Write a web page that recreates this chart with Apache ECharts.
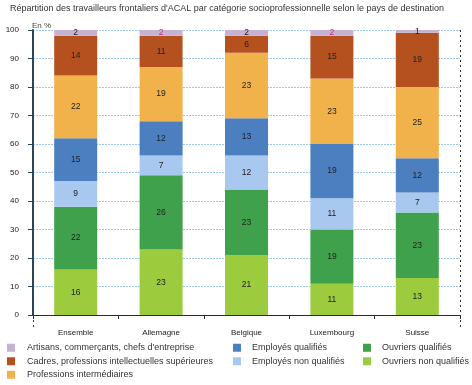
<!DOCTYPE html>
<html><head><meta charset="utf-8">
<script src="https://cdn.jsdelivr.net/npm/echarts@6/dist/echarts.min.js"></script>
<style>html,body{margin:0;padding:0;background:#fff}#c{width:472px;height:385px}</style>
</head><body><div id="c"></div>
<script>
const categories = ['Ensemble','Allemagne','Belgique','Luxembourg','Suisse'];
const seriesNames = ['Ouvriers non qualifiés','Ouvriers qualifiés','Employés non qualifiés','Employés qualifiés','Professions intermédiaires','Cadres, professions intellectuelles supérieures','Artisans, commerçants, chefs d\'entreprise'];
const ouvriersNonQualifies = [16,23,21,11,13];
const ouvriersQualifies = [22,26,23,19,23];
const employesNonQualifies = [9,7,12,11,7];
const employesQualifies = [15,12,13,19,12];
const professionsIntermediaires = [22,19,23,23,25];
const cadres = [14,11,6,15,19];
const artisans = [2,2,2,2,1];
const yTicks = [0,10,20,30,40,50,60,70,80,90,100];
const colors = ['#9ccb3e','#3fa14c','#a9c8ef','#4b7fbf','#f1b24c','#b5511f','#c6b2d2'];
const values = [ouvriersNonQualifies,ouvriersQualifies,employesNonQualifies,employesQualifies,professionsIntermediaires,cadres,artisans];
const FONT = 'Arial,"Liberation Sans",sans-serif';

const series = values.map((v,i)=>({
  name: seriesNames[i], type:'bar', stack:'s', barWidth:43,
  itemStyle:{color:colors[i]},
  label:{show:true, position:'inside', fontSize:8.5, fontFamily:FONT, color:'#222',
    formatter:p=>String(p.value)},
  data: v.map((x,j)=> (i===6 && (j===1||j===3)) ? {value:x,label:{color:'#c0288a'}} : x)
}));

const legendItem = (names, left, pad) => ({
  orient:'vertical', left, top:341, height:44, padding:0, itemWidth:8, itemHeight:8, itemGap:0,
  icon:'rect', selectedMode:false,
  textStyle:{fontSize:9, lineHeight:13.5, fontFamily:FONT, color:'#333', padding:[0,0,0,pad]},
  data: names
});

const chart = echarts.init(document.getElementById('c'), null, {renderer:'canvas'});
chart.setOption({
  animation:false,
  title:{text:'Répartition des travailleurs frontaliers d\'ACAL par catégorie socioprofessionnelle selon le pays de destination',
    left:5, top:0, padding:[4,5], textStyle:{fontSize:9, fontWeight:'normal', color:'#333', fontFamily:FONT}},
  grid:{left:33, right:12, top:30, bottom:70},
  legend:[
    legendItem([seriesNames[6],seriesNames[5],seriesNames[4]], 7, 7),
    legendItem([seriesNames[3],seriesNames[2]], 233, 6),
    legendItem([seriesNames[1],seriesNames[0]], 363, 6)
  ],
  xAxis:[{
    type:'category', data:categories,
    axisLine:{lineStyle:{color:'#1c2f3a', width:1}},
    axisTick:{show:true, length:4, lineStyle:{color:'#1c2f3a'}},
    axisLabel:{fontSize:8, fontFamily:FONT, color:'#222', margin:14},
    splitLine:{show:true, interval:(i)=>i===1, lineStyle:{color:'#333', type:[2,3], width:1}}
  },{
    type:'category', data:categories, position:'bottom',
    axisLine:{show:false},
    axisTick:{show:true, length:15, interval:(i)=>i===1, lineStyle:{color:'#333', type:[2,3]}},
    axisLabel:{show:false}, splitLine:{show:false}
  }],
  yAxis:{
    type:'value', min:0, max:100, interval:10,
    name:'En %', nameLocation:'end', nameGap:0,
    nameTextStyle:{fontSize:8, fontFamily:FONT, color:'#444', align:'left', padding:[0,0,0,-1]},
    axisLine:{show:true, lineStyle:{color:'#2b4656', width:2}},
    axisTick:{show:true, length:5, lineStyle:{color:'#2b4656'}},
    axisLabel:{fontSize:8, fontFamily:FONT, color:'#222', margin:14},
    splitLine:{show:true, lineStyle:{color:'#9cc8e8', type:[2,1], width:1}}
  },
  series: series.concat([{type:'bar', xAxisIndex:1, data:[], silent:true}])
});
</script></body></html>
